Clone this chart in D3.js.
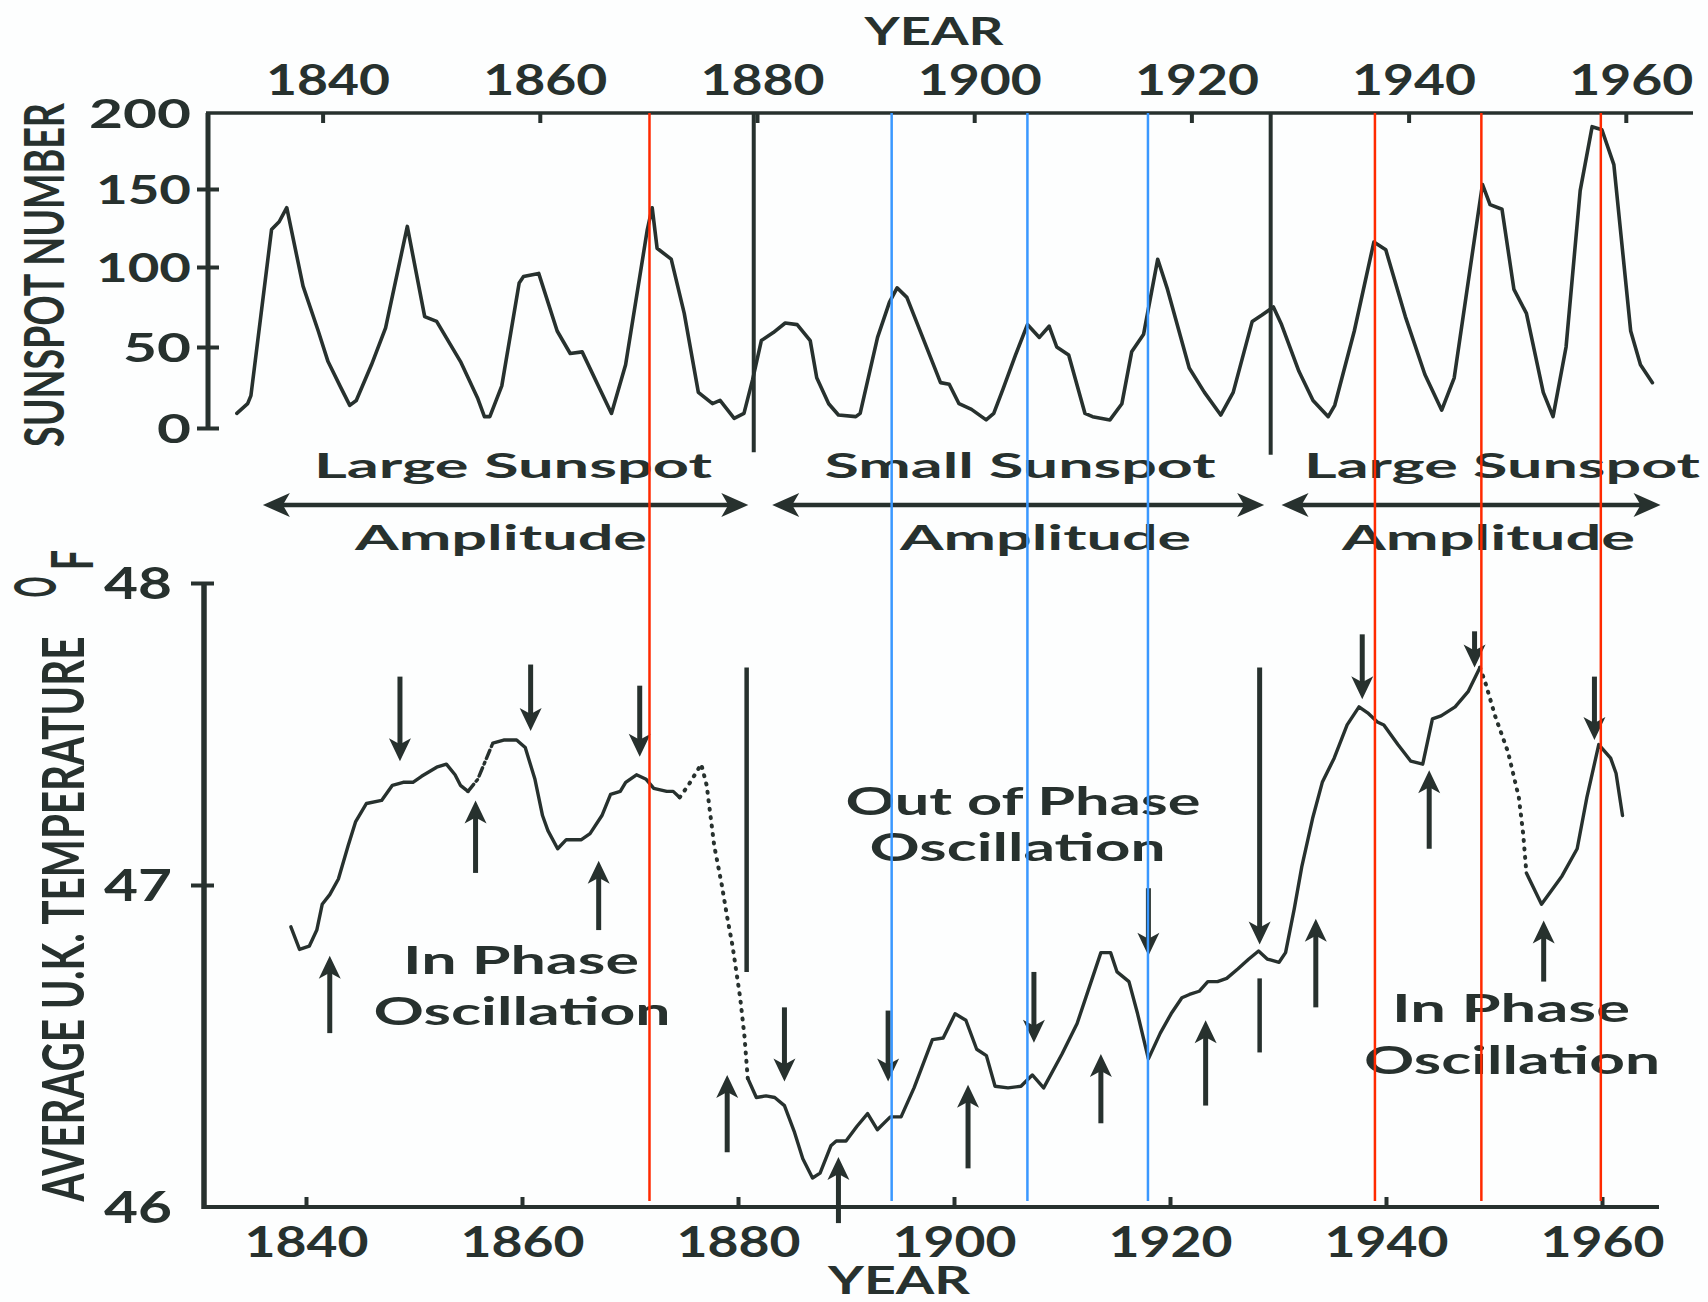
<!DOCTYPE html>
<html><head><meta charset="utf-8">
<script src="https://cdn.jsdelivr.net/npm/d3@7"></script>
<style>body{margin:0;background:#fdfefe;} svg{display:block;}</style>
</head><body>
<svg id="chart" width="1708" height="1302"></svg>
<script>
// ---------------- data ----------------
const yearTicks = [1840, 1860, 1880, 1900, 1920, 1940, 1960];
const sunTicks = [0, 50, 100, 150, 200];
const tempTicks = [46, 47, 48];

const sunYears = [
  1832.1,1833.1,1833.4,1835.3,1836.0,1836.7,1838.2,1839.6,1840.5,1841.6,
  1842.5,1843.1,1844.5,1845.8,1847.8,1849.4,1850.5,1852.7,1854.3,1854.9,
  1855.4,1856.5,1858.1,1858.5,1859.9,1861.6,1862.8,1863.9,1866.6,1867.9,
  1869.9,1870.35,1870.8,1872.1,1873.3,1874.6,1875.9,1876.6,1877.9,1878.8,
  1879.6,1880.4,1881.5,1882.6,1883.7,1884.9,1885.5,1886.6,1887.5,1889.1,
  1889.5,1891.1,1892.2,1892.9,1893.8,1896.9,1897.7,1898.6,1899.75,1901.1,
  1901.8,1902.65,1903.8,1904.9,1906.0,1906.9,1907.6,1908.7,1910.2,1910.9,
  1912.5,1913.6,1914.5,1915.6,1916.9,1917.8,1919.8,1921.2,1922.7,1923.85,
  1925.6,1926.5,1927.55,1928.3,1929.9,1931.2,1932.6,1933.2,1935.0,1936.8,
  1937.9,1939.7,1941.5,1943.05,1944.2,1946.4,1946.8,1947.5,1948.6,1949.7,
  1950.85,1952.4,1953.3,1954.5,1955.8,1956.9,1957.8,1958.9,1960.45,1961.35,
  1962.45];
const sunValues = [
  9,15,20,124,129,138,88,60,41,26,
  14,17,39,62,126,69,66,41,18,7,
  7,26,90,94,96,60,46,47,9,39,
  124,138,112,105,71,22,15,17,6,9,
  30,54,59,65,64,54,31,15,8,7,
  9,56,78,87,81,28,27,15,11.5,5,
  9,24,45,64,56,63,50,45,9,7,
  5,15,47,58,105,86,37,22,8,22,
  66,70,75,64,35,17,7,14,60,116,
  111,69,33,11,31,134,153,140,137,86,
  71,22,7,50,149,191,189,166,60,39,
  28];

const tempYears = [
  1838.6,1839.4,1840.3,1841.0,1841.5,1842.2,1843.0,1843.9,1844.6,1845.6,
  1847.0,1848.0,1849.0,1849.9,1850.7,1852.1,1853.0,1853.8,1854.3,1855.0,
  1855.9,1857.3,1858.3,1859.5,1860.3,1861.2,1861.9,1862.4,1863.3,1864.1,
  1865.5,1866.3,1867.4,1868.2,1869.1,1869.6,1870.6,1871.5,1872.2,1873.4,
  1874.0,1874.6,1875.4,1876.6,1877.1,1877.8,1878.5,1879.0,1879.5,1880.2,
  1880.6,1880.9,1881.7,1882.6,1883.4,1884.3,1885.2,1886.0,1886.9,1887.6,
  1888.6,1889.1,1890.0,1891.0,1892.0,1892.9,1894.1,1895.1,1896.3,1898.0,
  1899.0,1900.1,1901.1,1902.1,1903.0,1903.8,1905.0,1906.2,1907.25,1908.3,
  1910.0,1911.4,1912.7,1913.6,1914.5,1915.1,1916.2,1917.0,1918.0,1919.1,
  1920.1,1921.1,1921.8,1922.7,1923.5,1924.4,1925.25,1926.3,1927.3,1928.2,
  1929.0,1930.1,1930.7,1931.5,1932.2,1933.2,1934.1,1935.2,1936.4,1937.5,
  1938.3,1939.2,1939.8,1941.1,1942.3,1943.4,1944.3,1945.1,1946.4,1947.6,
  1948.7,1949.2,1950.1,1951.3,1952.3,1952.7,1953.0,1954.4,1956.3,1957.7,
  1958.6,1959.7,1960.8,1961.3,1961.9];
const tempValues = [
  46.87,46.80,46.81,46.86,46.94,46.97,47.02,47.13,47.21,47.27,
  47.28,47.33,47.34,47.34,47.36,47.39,47.40,47.365,47.33,47.31,
  47.35,47.47,47.48,47.48,47.455,47.35,47.23,47.18,47.12,47.15,
  47.15,47.17,47.23,47.30,47.31,47.34,47.365,47.35,47.32,47.31,
  47.31,47.29,47.33,47.40,47.33,47.13,47.00,46.90,46.81,46.65,
  46.53,46.40,46.34,46.345,46.34,46.315,46.235,46.15,46.09,46.105,
  46.19,46.205,46.205,46.25,46.29,46.24,46.28,46.28,46.37,46.52,
  46.525,46.60,46.58,46.49,46.47,46.375,46.37,46.375,46.41,46.37,
  46.475,46.57,46.70,46.79,46.79,46.73,46.70,46.60,46.46,46.54,
  46.60,46.65,46.66,46.67,46.70,46.70,46.71,46.74,46.77,46.795,
  46.77,46.76,46.79,46.925,47.06,47.22,47.34,47.42,47.53,47.59,
  47.57,47.54,47.53,47.465,47.41,47.40,47.55,47.56,47.59,47.64,
  47.72,47.67,47.56,47.44,47.29,47.17,47.04,46.94,47.03,47.12,
  47.29,47.465,47.42,47.37,47.23];
const dottedRanges = [[1874.6, 1880.9], [1948.7, 1953.0]];
const dashedRanges = [[1855.0, 1857.3]];

// annotation data (years / values)
const redYears = [1870.1, 1936.9, 1946.7, 1957.7];
const blueYears = [1892.4, 1904.9, 1916.0];
const topSeparatorYears = [1879.7, 1927.3];
const bottomSeparatorYear = 1880.8;
const downArrowYears = [1848.7, 1860.8, 1870.9, 1884.3, 1893.9, 1907.4, 1918.0, 1928.3, 1937.8, 1948.2, 1959.3];
const downArrowFrom  = [47.69, 47.73, 47.66, 46.62, 46.61, 46.73, 46.99, 47.72, 47.83, 47.84, 47.69];
const downArrowTo    = [47.41, 47.51, 47.425, 46.39, 46.39, 46.51, 46.78, 46.815, 47.615, 47.72, 47.48];
const upArrowYears = [1842.2, 1855.7, 1867.1, 1879.0, 1889.3, 1901.3, 1913.6, 1923.3, 1933.5, 1944.0, 1954.6];
const upArrowTip   = [46.78, 47.28, 47.08, 46.41, 46.155, 46.38, 46.475, 46.58, 46.895, 47.38, 46.89];
const upArrowTail  = [46.54, 47.04, 46.86, 46.17, 45.95, 46.12, 46.26, 46.315, 46.62, 47.12, 46.70];
const periodStart = [1834.5, 1881.4, 1928.3];
const periodEnd   = [1879.2, 1926.7, 1963.2];
const periodNames = ["Large Sunspot", "Small Sunspot", "Large Sunspot"];
const periodSub = ["Amplitude", "Amplitude", "Amplitude"];

// ---------------- scales ----------------
const INK = "#27312e";
const FONT = "Lato, 'Open Sans', sans-serif";
const svg = d3.select("#chart");
svg.append("rect").attr("width", 1708).attr("height", 1302).attr("fill", "#fdfefe");

const xTop = d3.scaleLinear().domain([1840, 1960]).range([322.6, 1625.8]);
const ySun = d3.scaleLinear().domain([0, 50, 100, 150, 200]).range([428, 347, 267, 189, 113]);
const xBot = d3.scaleLinear().domain([1840, 1960]).range([306, 1602]);
const yTemp = d3.scaleLinear().domain([46, 47, 48]).range([1207, 885, 583]);

const TOP_LEFT = 208, TOP_RIGHT = 1693;
const BOT_LEFT = 204, BOT_RIGHT = 1659;

function txt(g, s, x, y, size, len) {
  return g.append("text").text(s)
    .attr("font-family", FONT).attr("font-weight", 700)
    .attr("font-size", size).attr("fill", INK)
    .attr("text-anchor", "middle")
    .attr("x", x).attr("y", y)
    .attr("textLength", len).attr("lengthAdjust", "spacingAndGlyphs");
}
// rotated label: glyph size from font-size, length set by scaling along the text direction
function vtxt(g, s, x, y, size, len) {
  const t = g.append("text").text(s)
    .attr("font-family", FONT).attr("font-weight", 700)
    .attr("font-size", size).attr("fill", INK)
    .attr("text-anchor", "middle");
  const natural = t.node().getComputedTextLength() || len;
  t.attr("transform", `translate(${x},${y}) rotate(-90) scale(${len / natural},1)`);
  return t;
}
function digitLen(s) { return Array.from(s).reduce((a, c) => a + (c === "1" ? 27 : 34), 0); }

// ---------------- top panel ----------------
const gTop = svg.append("g");
gTop.append("line").attr("x1", TOP_LEFT - 2).attr("x2", TOP_RIGHT).attr("y1", ySun(200)).attr("y2", ySun(200))
  .attr("stroke", INK).attr("stroke-width", 3.5);
gTop.append("line").attr("x1", TOP_LEFT).attr("x2", TOP_LEFT).attr("y1", ySun(200)).attr("y2", ySun(0))
  .attr("stroke", INK).attr("stroke-width", 5);

const axTop = gTop.append("g").attr("transform", `translate(0,${ySun(200)})`)
  .call(d3.axisTop(xTop).tickValues(yearTicks).tickSize(-10).tickPadding(18).tickFormat(d3.format("d")));
axTop.select(".domain").remove();
axTop.selectAll(".tick line").attr("stroke", INK).attr("stroke-width", 4);
axTop.selectAll(".tick text").attr("fill", INK).attr("font-family", FONT).attr("font-weight", 700)
  .attr("font-size", 42).attr("dx", 5).attr("textLength", 124).attr("lengthAdjust", "spacingAndGlyphs");

const axSun = gTop.append("g").attr("transform", `translate(${TOP_LEFT},0)`)
  .call(d3.axisLeft(ySun).tickValues(sunTicks).tickSize(11).tickPadding(6).tickFormat(d3.format("d")));
axSun.select(".domain").remove();
axSun.selectAll(".tick line").attr("stroke", INK).attr("stroke-width", 4).attr("x1", 11)
  .attr("display", d => d === 200 ? "none" : null);
axSun.selectAll(".tick text").attr("fill", INK).attr("font-family", FONT).attr("font-weight", 700)
  .attr("font-size", 41).attr("dy", "0.36em")
  .attr("textLength", d => digitLen(String(d))).attr("lengthAdjust", "spacingAndGlyphs");

topSeparatorYears.forEach((yr, i) => {
  gTop.append("line").attr("x1", xTop(yr)).attr("x2", xTop(yr))
    .attr("y1", ySun(200)).attr("y2", ySun(i === 0 ? -15 : -16.5))
    .attr("stroke", INK).attr("stroke-width", 4);
});

const sunPts = sunYears.map((y, i) => ({ year: y, v: sunValues[i] }));
gTop.append("path").datum(sunPts)
  .attr("d", d3.line().x(d => xTop(d.year)).y(d => ySun(d.v)))
  .attr("fill", "none").attr("stroke", INK).attr("stroke-width", 3.6)
  .attr("stroke-linejoin", "round").attr("stroke-linecap", "round");

txt(svg, "YEAR", 934, 45, 39, 139);
vtxt(svg, "SUNSPOT NUMBER", 64, 275, 56, 344);

// ---------------- period labels ----------------
const gMid = svg.append("g");
function hArrow(x1, x2, y) {
  gMid.append("line").attr("x1", x1 + 12).attr("x2", x2 - 12).attr("y1", y).attr("y2", y)
    .attr("stroke", INK).attr("stroke-width", 4.5);
  [[x1, 1], [x2, -1]].forEach(([x, s]) => {
    gMid.append("path")
      .attr("d", `M${x},${y} L${x + s * 27},${y - 12} L${x + s * 20},${y} L${x + s * 27},${y + 12} Z`)
      .attr("fill", INK);
  });
}
periodStart.forEach((s, i) => hArrow(xTop(s), xTop(periodEnd[i]), 505));
const nameCx = [513, 1020, 1502], nameLen = [398, 391, 396];
const subCx = [501, 1045.5, 1488.5], subLen = [292, 291, 293];
periodNames.forEach((n, i) => {
  txt(gMid, n, nameCx[i], 478, 35, nameLen[i]);
  txt(gMid, periodSub[i], subCx[i], 550, 35, subLen[i]);
});

// ---------------- bottom panel ----------------
const gBot = svg.append("g");
gBot.append("line").attr("x1", BOT_LEFT).attr("x2", BOT_LEFT).attr("y1", yTemp(48)).attr("y2", yTemp(46) + 2)
  .attr("stroke", INK).attr("stroke-width", 5.5);
gBot.append("line").attr("x1", BOT_LEFT - 2).attr("x2", BOT_RIGHT).attr("y1", yTemp(46)).attr("y2", yTemp(46))
  .attr("stroke", INK).attr("stroke-width", 4);

const axBot = gBot.append("g").attr("transform", `translate(0,${yTemp(46)})`)
  .call(d3.axisBottom(xBot).tickValues(yearTicks).tickSize(-10).tickPadding(20).tickFormat(d3.format("d")));
axBot.select(".domain").remove();
axBot.selectAll(".tick line").attr("stroke", INK).attr("stroke-width", 4);
axBot.selectAll(".tick text").attr("fill", INK).attr("font-family", FONT).attr("font-weight", 700)
  .attr("font-size", 42).attr("textLength", 124).attr("lengthAdjust", "spacingAndGlyphs");

const axTemp = gBot.append("g").attr("transform", `translate(${BOT_LEFT},0)`)
  .call(d3.axisLeft(yTemp).tickValues(tempTicks).tickSize(13).tickPadding(19).tickFormat(d3.format("d")));
axTemp.select(".domain").remove();
axTemp.selectAll(".tick line").attr("stroke", INK).attr("stroke-width", 4).attr("x1", 10)
  .attr("display", d => d === 46 ? "none" : null);
axTemp.selectAll(".tick text").attr("fill", INK).attr("font-family", FONT).attr("font-weight", 700)
  .attr("font-size", 43).attr("dy", "0.36em")
  .attr("textLength", 68).attr("lengthAdjust", "spacingAndGlyphs");

gBot.append("line").attr("x1", xBot(bottomSeparatorYear)).attr("x2", xBot(bottomSeparatorYear))
  .attr("y1", yTemp(47.72)).attr("y2", yTemp(46.73)).attr("stroke", INK).attr("stroke-width", 4.5);

// temperature curve (solid / dashed / dotted pieces)
const tempPts = tempYears.map((y, i) => ({ year: y, v: tempValues[i] }));
const inR = (rs, a, b) => rs.some(r => a >= r[0] - 1e-6 && b <= r[1] + 1e-6);
const styleOf = (a, b) => inR(dottedRanges, a, b) ? "dot" : (inR(dashedRanges, a, b) ? "dash" : "solid");
const segs = [];
let cur = [tempPts[0]], curSt = styleOf(tempPts[0].year, tempPts[1].year);
for (let i = 1; i < tempPts.length; i++) {
  const st = styleOf(tempPts[i - 1].year, tempPts[i].year);
  if (st !== curSt) { segs.push({ pts: cur, st: curSt }); cur = [tempPts[i - 1]]; curSt = st; }
  cur.push(tempPts[i]);
}
segs.push({ pts: cur, st: curSt });
const tLine = d3.line().x(d => xBot(d.year)).y(d => yTemp(d.v));
segs.forEach(s => {
  gBot.append("path").datum(s.pts).attr("d", tLine)
    .attr("fill", "none").attr("stroke", INK)
    .attr("stroke-width", s.st === "dot" ? 4 : 3.4)
    .attr("stroke-dasharray", s.st === "dot" ? "1,7.5" : (s.st === "dash" ? "9,4,2,4" : null))
    .attr("stroke-linejoin", "round").attr("stroke-linecap", "round");
});

function vArrow(g, x, yTail, yTip) {
  const s = yTip > yTail ? 1 : -1;
  g.append("line").attr("x1", x).attr("x2", x).attr("y1", yTail).attr("y2", yTip - s * 14)
    .attr("stroke", INK).attr("stroke-width", 5);
  g.append("path")
    .attr("d", `M${x},${yTip} L${x - 11},${yTip - s * 23} L${x},${yTip - s * 17} L${x + 11},${yTip - s * 23} Z`)
    .attr("fill", INK);
}
downArrowYears.forEach((yr, i) => vArrow(gBot, xBot(yr), yTemp(downArrowFrom[i]), yTemp(downArrowTo[i])));
upArrowYears.forEach((yr, i) => vArrow(gBot, xBot(yr), yTemp(upArrowTail[i]), yTemp(upArrowTip[i])));
gBot.append("line").attr("x1", xBot(1928.3)).attr("x2", xBot(1928.3))
  .attr("y1", yTemp(46.71)).attr("y2", yTemp(46.48)).attr("stroke", INK).attr("stroke-width", 4.5);

// bottom texts
txt(svg, "Out of Phase", 1023, 815, 39, 355);
txt(svg, "Oscillation", 1017.5, 861, 39, 296);
txt(svg, "In Phase", 521, 974, 39, 236);
txt(svg, "Oscillation", 522, 1025, 39, 297);
txt(svg, "In Phase", 1511, 1022, 39, 238);
txt(svg, "Oscillation", 1512, 1074, 39, 296);
txt(svg, "YEAR", 899, 1294, 38, 142);
vtxt(svg, "AVERAGE  U.K. TEMPERATURE", 84, 919, 58, 565);
vtxt(svg, "F", 93, 560, 58, 20);
vtxt(svg, "O", 56, 587, 58, 21);

// ---------------- coloured reference lines ----------------
const yLineTop = ySun(200), yLineBot = yTemp(46) - 6;
redYears.forEach(yr => svg.append("line").attr("x1", xTop(yr)).attr("x2", xTop(yr))
  .attr("y1", yLineTop).attr("y2", yLineBot).attr("stroke", "#ff2a00").attr("stroke-width", 2.5));
blueYears.forEach(yr => svg.append("line").attr("x1", xTop(yr)).attr("x2", xTop(yr))
  .attr("y1", yLineTop).attr("y2", yLineBot).attr("stroke", "#3a98ff").attr("stroke-width", 2.5));
</script>
</body></html>
